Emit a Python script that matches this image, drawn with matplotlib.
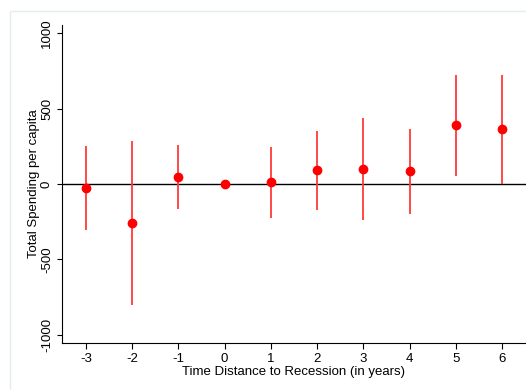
import matplotlib.pyplot as plt
from matplotlib.patches import Rectangle

# data
years = [-3, -2, -1, 0, 1, 2, 3, 4, 5, 6]
coef = [-27, -259, 48, 0, 13, 91, 100, 84, 392, 365]
ci_low = [-305, -803, -164, 0, -224, -175, -241, -197, 55, 3]
ci_high = [250, 285, 257, 0, 248, 352, 438, 363, 723, 723]


def main() -> None:
    plt.rcParams['font.family'] = ['Liberation Sans', 'DejaVu Sans']
    plt.rcParams['axes.unicode_minus'] = False
    fig = plt.figure(figsize=(5.26, 3.90), dpi=100)
    # light outer frame like the Stata graph region
    fig.patches.append(Rectangle((10 / 526, -0.1), 1.2, 1 - 11 / 390 + 0.1,
                                 transform=fig.transFigure, fill=False,
                                 edgecolor='#e3ecee', linewidth=1))
    ax = fig.add_axes([62 / 526, 1 - 343 / 390, 1 - 62 / 526, (343 - 25) / 390])

    ax.vlines(years, ci_low, ci_high, color='#ff3a3a', linewidth=1.3, zorder=2)
    ax.plot(years, coef, 'o', color='red', markersize=6, zorder=3)
    ax.axhline(0, color='black', linewidth=1, zorder=1)

    ax.set_xlim(-3.52, 6.52)
    ax.set_ylim(-1055, 1055)
    ax.set_xticks(years)
    ax.set_yticks([-1000, -500, 0, 500, 1000])
    ax.set_yticklabels(['-1000', '-500', '0', '500', '1000'], rotation=90, va='center')
    ax.tick_params(labelsize=9.5, width=0.8)
    ax.tick_params(axis='x', length=4, pad=3)
    ax.tick_params(axis='y', length=3.5, pad=3)
    ax.spines['top'].set_visible(False)
    ax.spines['right'].set_visible(False)
    ax.set_xlabel('Time Distance to Recession (in years)', fontsize=9.5, labelpad=1)
    ax.set_ylabel('Total Spending per capita', fontsize=9.5, labelpad=1)

    plt.savefig('out.png', dpi=100)


if __name__ == "__main__":
    main()
